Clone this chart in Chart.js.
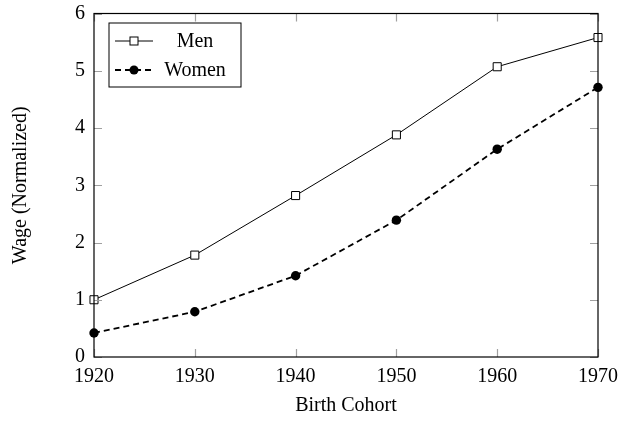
<!DOCTYPE html>
<html>
<head>
<meta charset="utf-8">
<script src="https://cdn.jsdelivr.net/npm/chart.js@4/dist/chart.umd.min.js"></script>
<style>
  html, body { margin: 0; padding: 0; background: #fff; }
  #wrap { width: 620px; height: 422px; }
</style>
</head>
<body>
<div id="wrap"><canvas id="chart" width="620" height="422"></canvas></div>
<script>
// Chart data
const cohorts = [1920, 1930, 1940, 1950, 1960, 1970];
const menWage = [1.0, 1.78, 2.82, 3.88, 5.07, 5.58];
const womenWage = [0.42, 0.79, 1.42, 2.39, 3.63, 4.71];
const xTicks = [1920, 1930, 1940, 1950, 1960, 1970];
const yTicks = [0, 1, 2, 3, 4, 5, 6];

const FONT = "'Liberation Serif', 'Times New Roman', serif";

// Inside tick marks on all four sides plus the black frame
const framePlugin = {
  id: 'frame',
  afterDatasetsDraw(chart) {
    const { ctx, chartArea: a, scales } = chart;
    const len = 8;
    ctx.save();
    ctx.strokeStyle = '#a0a0a0';
    ctx.lineWidth = 1.2;
    ctx.beginPath();
    xTicks.forEach(v => {
      const x = Math.round(scales.x.getPixelForValue(v)) + 0.5;
      ctx.moveTo(x, a.bottom); ctx.lineTo(x, a.bottom - len);
      ctx.moveTo(x, a.top); ctx.lineTo(x, a.top + len);
    });
    yTicks.forEach(v => {
      const y = Math.round(scales.y.getPixelForValue(v)) + 0.5;
      ctx.moveTo(a.left, y); ctx.lineTo(a.left + len, y);
      ctx.moveTo(a.right, y); ctx.lineTo(a.right - len, y);
    });
    ctx.stroke();
    ctx.strokeStyle = '#000';
    ctx.lineWidth = 1.2;
    ctx.strokeRect(a.left, a.top, a.right - a.left, a.bottom - a.top);
    ctx.restore();
  }
};

// pgfplots style legend box in the upper left corner
const legendPlugin = {
  id: 'boxLegend',
  afterDraw(chart) {
    const { ctx, chartArea: a } = chart;
    const bx = a.left + 15, by = a.top + 9.5, bw = 132, bh = 64;
    ctx.save();
    ctx.fillStyle = '#fff';
    ctx.fillRect(bx, by, bw, bh);
    ctx.strokeStyle = '#000';
    ctx.lineWidth = 1;
    ctx.strokeRect(bx, by, bw, bh);

    const rows = [by + 18, by + 47];
    const x0 = bx + 6, x1 = bx + 44, mx = (x0 + x1) / 2;
    ctx.font = '20px ' + FONT;
    ctx.textAlign = 'center';
    ctx.textBaseline = 'middle';

    chart.data.datasets.forEach((ds, i) => {
      const y = rows[i];
      ctx.strokeStyle = '#000';
      ctx.lineWidth = ds.borderWidth;
      ctx.setLineDash(ds.borderDash || []);
      ctx.beginPath();
      ctx.moveTo(x0, y); ctx.lineTo(x1, y);
      ctx.stroke();
      ctx.setLineDash([]);
      ctx.lineWidth = 1;
      if (ds.pointStyle === 'rect') {
        ctx.fillStyle = '#fff';
        ctx.fillRect(mx - 4, y - 4, 8, 8);
        ctx.strokeRect(mx - 4, y - 4, 8, 8);
      } else {
        ctx.fillStyle = '#000';
        ctx.beginPath();
        ctx.arc(mx, y, 4.5, 0, Math.PI * 2);
        ctx.fill();
      }
      ctx.fillStyle = '#000';
      ctx.fillText(ds.label, bx + 86, y + 1);
    });
    ctx.restore();
  }
};

new Chart(document.getElementById('chart'), {
  type: 'line',
  data: {
    datasets: [
      {
        label: 'Men',
        data: cohorts.map((c, i) => ({ x: c, y: menWage[i] })),
        borderColor: '#000',
        borderWidth: 1,
        pointStyle: 'rect',
        pointRadius: 5.7,
        pointBackgroundColor: '#fff',
        pointBorderColor: '#000',
        pointBorderWidth: 1,
        tension: 0,
        clip: false
      },
      {
        label: 'Women',
        data: cohorts.map((c, i) => ({ x: c, y: womenWage[i] })),
        borderColor: '#000',
        borderWidth: 1.8,
        borderDash: [6, 4],
        pointStyle: 'circle',
        pointRadius: 4.7,
        pointBackgroundColor: '#000',
        pointBorderColor: '#000',
        pointBorderWidth: 0,
        tension: 0,
        clip: false
      }
    ]
  },
  options: {
    responsive: false,
    animation: false,
    events: [],
    layout: { padding: { left: 0, top: 13.5, right: 22, bottom: 0 } },
    plugins: {
      legend: { display: false },
      tooltip: { enabled: false }
    },
    scales: {
      x: {
        type: 'linear',
        min: 1920,
        max: 1970,
        grid: { display: false, drawTicks: false },
        border: { display: false },
        ticks: {
          stepSize: 10,
          padding: 8,
          color: '#000',
          font: { family: FONT, size: 20 },
          callback: v => String(v)
        },
        title: {
          display: true,
          text: 'Birth Cohort',
          color: '#000',
          font: { family: FONT, size: 20 },
          padding: { top: 4, bottom: 4 }
        },
        afterFit(scale) {
          scale.height = 65;
          scale.paddingLeft = 0;
          scale.paddingRight = 0;
        }
      },
      y: {
        min: 0,
        max: 6,
        grid: { display: false, drawTicks: false },
        border: { display: false },
        ticks: {
          stepSize: 1,
          padding: 9,
          color: '#000',
          font: { family: FONT, size: 20 }
        },
        title: {
          display: true,
          text: 'Wage (Normalized)',
          color: '#000',
          font: { family: FONT, size: 20 },
          padding: { top: 9, bottom: 4 }
        },
        afterFit(scale) {
          scale.width = 94;
          scale.paddingTop = 0;
          scale.paddingBottom = 0;
        }
      }
    }
  },
  plugins: [framePlugin, legendPlugin]
});
</script>
</body>
</html>
